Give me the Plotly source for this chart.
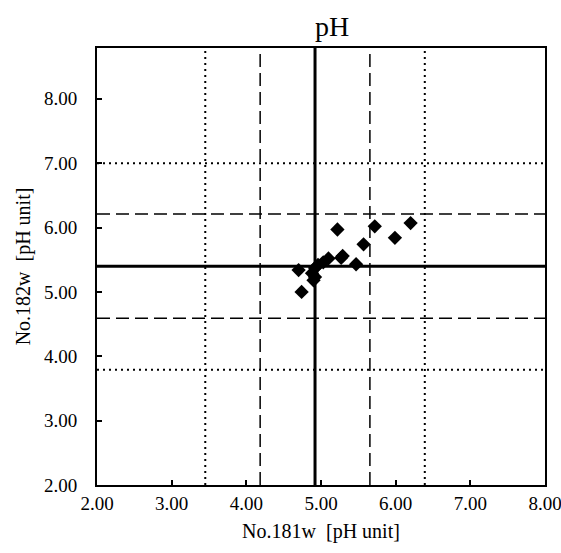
import plotly.graph_objects as go

x_vals = [5.22, 5.72, 6.20, 5.99, 5.57, 5.29, 5.27, 5.47, 5.10, 5.03, 4.96, 4.92, 4.88, 4.92, 4.90, 4.70, 4.74]
y_vals = [5.97, 6.02, 6.07, 5.84, 5.74, 5.56, 5.53, 5.43, 5.52, 5.46, 5.42, 5.37, 5.29, 5.23, 5.18, 5.34, 5.00]

x_center = 4.92
x_dashed = [4.185, 5.655]
x_dotted = [3.45, 6.39]
y_center = 5.40
y_dashed = [4.59, 6.21]
y_dotted = [3.79, 7.00]

tick_vals = [2, 3, 4, 5, 6, 7, 8]
x_range = [2, 8]
y_range = [2, 8.79]

FONT = "Liberation Serif, Times New Roman, serif"

W, H = 561, 553

fig = go.Figure()

def vline(x, dash, width):
    fig.add_shape(type="line", xref="x", yref="y", x0=x, x1=x, y0=y_range[0], y1=y_range[1],
                  line=dict(color="black", width=width, dash=dash), layer="below")

def hline(y, dash, width):
    fig.add_shape(type="line", xref="x", yref="y", x0=x_range[0], x1=x_range[1], y0=y, y1=y,
                  line=dict(color="black", width=width, dash=dash), layer="below")

for v in x_dotted:
    vline(v, "2px,4px", 2)
for v in x_dashed:
    vline(v, "13px,6px", 1.5)
vline(x_center, "solid", 3)
for v in y_dotted:
    hline(v, "2px,4px", 2)
for v in y_dashed:
    hline(v, "13px,6px", 1.5)
hline(y_center, "solid", 3)

fig.add_trace(go.Scatter(x=x_vals, y=y_vals, mode="markers",
                         marker=dict(symbol="diamond", size=11, color="black"),
                         showlegend=False, cliponaxis=False))

axis_common = dict(
    showgrid=False, zeroline=False, showline=True, linecolor="black", linewidth=2,
    mirror=True, ticks="inside", ticklen=5, tickwidth=1.5, tickcolor="black",
    tickvals=tick_vals, tickformat=".2f", automargin=False, ticklabeloverflow="allow",
    tickfont=dict(family=FONT, size=19, color="black"),
)

fig.update_layout(
    width=W, height=H,
    margin=dict(l=97, r=16, t=48, b=68),
    paper_bgcolor="white", plot_bgcolor="white",
    title=dict(text="pH", x=332 / W, xref="container", xanchor="center",
               y=1 - 26 / H, yref="container", yanchor="middle",
               font=dict(family=FONT, size=28, color="black")),
    xaxis=dict(range=x_range, title=dict(text="No.181w\u00a0\u00a0[pH unit]", standoff=11,
               font=dict(family=FONT, size=20, color="black")), **axis_common),
    yaxis=dict(range=y_range, ticklabelstandoff=14,
               title=dict(text="No.182w\u00a0\u00a0[pH unit]", standoff=8,
               font=dict(family=FONT, size=20, color="black")), **axis_common),
)

fig.write_html(
    "out.html",
    config={"displayModeBar": False},
    post_script="document.body.style.margin='0';document.body.style.overflow='hidden';",
)
